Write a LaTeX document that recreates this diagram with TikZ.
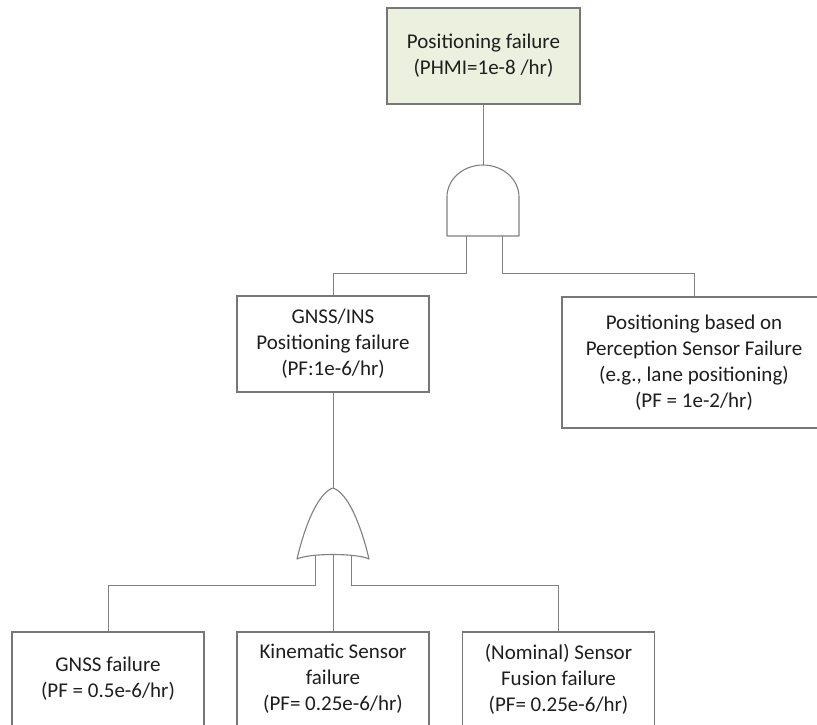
\documentclass[tikz,border=0pt]{standalone}
\usepackage{fontspec}
\setmainfont{Carlito}
\definecolor{wireline}{HTML}{808080}
\definecolor{boxline}{HTML}{777777}
\definecolor{topfill}{HTML}{EBF1DE}
\definecolor{textcol}{HTML}{1E1E1E}
\begin{document}
\begin{tikzpicture}[x=1pt,y=-1pt,
  event/.style={draw=boxline, line width=1.1pt, fill=white, align=center,
    inner sep=0pt, text=textcol, font=\fontsize{21}{26}\selectfont,
    minimum width=192pt, minimum height=96pt},
  wire/.style={draw=wireline, line width=1pt},
  gate/.style={draw=wireline, line width=1.1pt, fill=white, line join=round}]
\useasboundingbox (0,0) rectangle (817,724);
\clip (0,0) rectangle (817,724);

% events
\node[event, fill=topfill, minimum width=193pt] (top) at (483.5,56)
  {Positioning failure\\(PHMI=1e-8 /hr)};
\node[event] (gnssins) at (333,344)
  {GNSS/INS\\Positioning failure\\(PF:1e-6/hr)};
\node[event, minimum width=264pt, minimum height=131pt] (percep) at (694,362.5)
  {Positioning based on\\Perception Sensor Failure\\(e.g., lane positioning)\\(PF = 1e-2/hr)};
\node[event, minimum height=94pt] (gnss) at (108,679)
  {GNSS failure\\(PF = 0.5e-6/hr)};
\node[event, minimum height=94pt] (kin) at (333,679)
  {Kinematic Sensor\\failure\\(PF= 0.25e-6/hr)};
\node[event, minimum height=94pt] (fus) at (558.5,679)
  {(Nominal) Sensor\\Fusion failure\\(PF= 0.25e-6/hr)};

% gate terminals
\coordinate (andout) at (483,165);
\coordinate (andinL) at (466,236);
\coordinate (andinR) at (502,236);
\coordinate (orout)  at (333,488);
\coordinate (orinL)  at (315,556);
\coordinate (orinM)  at (333,554);
\coordinate (orinR)  at (351,556);

% connectors
\draw[wire] (top.south -| andout) -- (andout);
\draw[wire] (andinL) -- ++(0,37) -| (gnssins.north);
\draw[wire] (andinR) -- ++(0,37) -| (percep.north);
\draw[wire] (gnssins.south) -- (orout);
\draw[wire] (orinL) -- ++(0,29) -| (gnss.north);
\draw[wire] (orinM) -- (kin.north);
\draw[wire] (orinR) -- ++(0,29) -| (fus.north);

% AND gate
\draw[gate] (447,236) -- (447,197)
  .. controls (447,179.3) and (463.1,165) .. (483,165)
  .. controls (502.9,165) and (519,179.3) .. (519,197)
  -- (519,236) -- cycle;

% OR gate
\draw[gate] (297,559)
  .. controls (305,525) and (318,493) .. (333,488)
  .. controls (348,493) and (361,525) .. (369,559)
  .. controls (357,553) and (309,553) .. (297,559) -- cycle;
\draw[wire] (orinM) -- ++(0,2);
\end{tikzpicture}
\end{document}
